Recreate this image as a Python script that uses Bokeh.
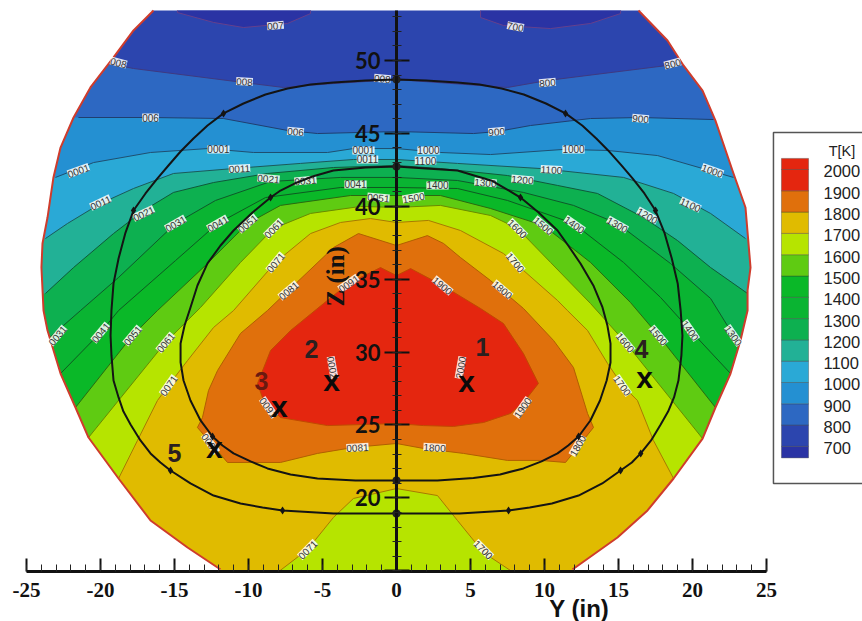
from bokeh.plotting import figure
from bokeh.embed import file_html
from bokeh.resources import INLINE
from bokeh.models import Range1d, SingleIntervalTicker
from bokeh.core.properties import value

# ---------- outline of the section (Y, Z in inches) ----------
outline_left = [(-16.42,53.43),(-17.77,52.06),(-19.12,50.21),(-20.68,48.15),(-21.82,46.09),(-22.70,44.03),
                (-23.18,41.98),(-23.58,39.23),(-23.92,37.45),(-23.99,35.80),(-23.85,32.85),(-23.58,31.48),
                (-22.70,28.53),(-21.69,26.20),(-20.81,24.14),(-18.78,21.33),(-16.62,18.45),(-14.12,16.60),(-11.89,15.09)]
outline_right = [(16.35,53.43),(18.31,51.37),(19.39,49.66),(20.68,47.94),(21.55,45.88),(22.77,42.25),(23.58,39.92),
                 (23.92,35.80),(23.72,34.23),(23.72,32.85),(23.24,30.80),(22.57,28.53),(21.55,26.20),(20.68,24.07),
                 (18.72,21.33),(16.96,19.14),(14.93,17.28),(11.89,15.09)]

# ---------- temperature contours ----------
c700_a = [(-14.80,53.43),(-14.80,53.29),(-12.36,52.61),(-10.34,52.26),(-7.36,52.54),(-5.81,53.22),(-5.81,53.43)]
c700_b = [(5.68,53.43),(5.68,52.95),(7.23,52.40),(10.41,52.19),(13.11,52.54),(15.14,53.22),(15.14,53.43)]
c800 = [(-19.46,49.79),(-17.77,49.45),(-10.34,48.49),(-7.64,48.15),(-4.26,48.42),(0,48.69),(7.50,48.15),(10.20,48.63),(18.31,49.66),(19.39,49.86)]
c900 = [(-21.49,46.09),(-16.62,46.09),(-11.69,46.02),(-7.36,45.20),(-5.34,44.99),(0,45.13),(5.20,44.99),(6.82,45.13),(9.05,45.54),(13.11,46.02),(16.49,46.09),(21.42,45.95)]
c1000 = [(-23.04,41.98),(-20.47,43.00),(-16.62,43.69),(-12.77,43.96),(-9.66,43.69),(-4.66,43.69),(-2.91,43.96),(0,43.96),(2.97,43.69),(6.35,43.55),(11.28,43.90),(14.26,43.83),(17.64,43.48),(22.77,41.98)]
c1100 = [(-23.72,37.79),(-22.23,38.82),(-20.0,40.19),(-17.77,41.22),(-15.07,42.25),(-11.01,42.59),(-6.49,42.94),(-2.91,43.21),(0,43.21),(4.12,42.94),(9.73,42.59),(15.34,41.98),(18.72,40.88),(21.22,39.51),(23.58,37.79)]
c1200 = [(-23.72,34.02),(-21.82,35.80),(-19.12,38.13),(-17.09,39.71),(-15.07,40.95),(-12.36,41.63),(-8.72,42.25),(-4.26,42.66),(0,42.80),(2.97,42.59),(7.50,42.11),(10.88,41.43),(13.58,40.88),(16.69,39.23),(18.99,37.65),(21.22,35.80),(23.72,34.02)]
c1300 = [(-23.51,30.93),(-21.35,32.85),(-18.78,35.12),(-14.93,38.82),(-12.23,40.40),(-8.51,41.70),(-3.78,41.98),(0,41.98),(4.12,41.77),(8.58,40.95),(11.96,40.06),(14.93,38.82),(18.51,36.08),(21.22,33.68),(22.77,31.14),(23.31,30.45)]
c1400 = [(-22.70,28.53),(-20.0,31.34),(-18.78,32.85),(-14.93,36.28),(-12.09,38.82),(-8.85,40.60),(-3.78,41.29),(0,41.29),(4.12,41.22),(7.50,40.40),(11.96,38.82),(15.34,36.15),(17.84,33.75),(19.86,31.48),(22.57,28.53)]
c1500 = [(-21.69,26.20),(-17.84,31.14),(-16.15,32.85),(-12.91,35.94),(-10.07,38.82),(-7.84,40.06),(-3.11,40.74),(0,40.74),(2.97,40.74),(6.35,39.85),(9.93,38.68),(13.11,36.15),(15.81,33.40),(17.70,31.14),(21.55,26.20)]
c1600 = [(-20.81,24.14),(-15.61,30.66),(-13.24,33.06),(-10.54,36.15),(-8.31,38.48),(-5.81,39.51),(-2.43,39.99),(0,39.92),(2.97,40.06),(6.35,39.37),(8.18,38.48),(10.41,36.15),(13.11,33.33),(15.47,30.66),(20.68,24.07)]
c1700 = [(-18.78,21.33),(-17.50,23.94),(-16.15,26.68),(-15.41,27.71),(-14.12,29.42),(-12.36,31.69),(-11.01,32.85),(-8.18,36.15),(-5.81,38.13),(-3.78,38.89),(-1.76,39.16),(0,38.89),(2.16,39.03),(4.32,38.34),(7.23,36.76),(8.58,35.60),(10.88,33.54),(11.55,32.85),(12.91,31.48),(14.26,29.22),(15.27,27.71),(16.28,26.68),(17.36,23.94),(18.72,21.33)]
c1700_low = [(-8.04,14.88),(-6.01,16.46),(-4.26,18.66),(-2.91,19.96),(0,20.64),(2.77,20.16),(4.12,18.45),(5.88,16.25),(7.70,15.02)]
c1800 = [(-13.45,24.83),(-13.11,25.51),(-12.70,27.37),(-12.09,28.74),(-10.54,31.28),(-8.72,32.85),(-7.30,34.23),(-4.26,37.17),(-2.57,38.13),(0,37.31),(2.09,37.99),(3.18,37.45),(4.32,36.49),(6.35,34.91),(8.58,32.99),(10.61,30.80),(11.96,28.94),(12.91,25.79),(13.31,24.83),(11.42,22.43),(9.73,22.57),(7.50,22.57),(4.53,23.05),(1.82,23.39),(0,23.73),(-2.91,23.46),(-5.34,23.05),(-7.84,22.43),(-11.42,22.43),(-13.45,24.83)]
c1900 = [(-9.39,27.85),(-8.51,30.11),(-7.16,31.48),(-4.93,33.33),(-3.24,34.71),(-1.08,35.80),(0,35.25),(0.95,35.73),(3.11,34.57),(5.68,32.99),(7.23,31.96),(8.58,29.90),(9.59,27.85),(8.58,26.54),(7.70,25.79),(5.88,25.17),(3.85,24.90),(1.82,24.96),(0,25.10),(-4.66,24.96),(-7.84,25.51),(-8.99,26.68),(-9.39,27.85)]

# ---------- band colours, lowest temperature first ----------
color_below_700 = "#2a33a4"
color_700 = "#2c45ae"
color_800 = "#2d68c2"
color_900 = "#2490d2"
color_1000 = "#2aa9d6"
color_1100 = "#22b196"
color_1200 = "#0db050"
color_1300 = "#0ab432"
color_1400 = "#0ab828"
color_1500 = "#5fcb12"
color_1600 = "#b6e400"
color_1700 = "#e0bb00"
color_1800 = "#e0700c"
color_1900 = "#e4260f"

# ---------- flow trajectories ----------
path_outer = [(0,48.69),(-2.09,48.63),(-4.26,48.49),(-5.81,48.35),(-7.36,48.08),(-8.85,47.67),(-10.34,47.05),(-11.69,46.37),(-12.77,45.54),(-13.72,44.65),(-14.59,43.76),(-15.41,42.80),(-16.15,41.91),(-16.96,40.88),(-17.77,39.71),(-18.31,38.20),(-18.78,36.42),(-19.12,34.71),(-19.26,32.85),(-19.32,31.14),(-19.26,29.77),(-19.12,28.05),(-18.78,26.89),(-18.45,25.92),(-17.97,25.03),(-17.30,23.94),(-16.62,23.05),(-15.95,22.43),(-15.27,21.88),(-13.92,20.99),(-12.36,20.16),(-10.54,19.62),(-9.05,19.34),(-7.70,19.14),(-4.26,18.93),(0,18.93),
              (4.26,18.93),(7.57,19.14),(9.0,19.34),(10.5,19.62),(12.3,20.16),(13.9,20.99),(15.14,21.88),(15.9,22.43),(16.5,23.05),(17.2,23.94),(17.85,25.03),(18.35,25.92),(18.75,26.89),(19.05,28.05),(19.25,29.77),(19.32,31.14),(19.2,32.85),(19.0,34.71),(18.6,36.42),(18.1,38.20),(17.5,39.71),(16.75,40.88),(15.95,41.91),(15.2,42.80),(14.3,43.83),(13.5,44.65),(12.55,45.54),(11.42,46.37),(10.1,47.05),(8.6,47.67),(7.1,48.08),(5.6,48.35),(4.1,48.49),(2.0,48.63),(0,48.69)]
path_inner = [(0,42.73),(-2.09,42.66),(-4.26,42.45),(-5.68,42.04),(-6.89,41.56),(-7.84,41.08),(-8.51,40.60),(-9.73,39.57),(-11.01,38.34),(-11.89,37.31),(-12.77,36.08),(-13.45,34.57),(-13.92,33.06),(-14.32,31.82),(-14.59,30.59),(-14.59,29.29),(-14.39,28.05),(-13.92,26.68),(-13.24,25.31),(-12.43,24.21),(-11.76,23.59),(-11.01,23.05),(-9.86,22.50),(-8.72,22.02),(-7.16,21.61),(-5.34,21.33),(-2.77,21.19),(0,21.19),
              (2.77,21.19),(5.20,21.36),(7.0,21.61),(8.58,22.02),(9.8,22.50),(10.88,23.05),(11.6,23.59),(12.30,24.21),(13.1,25.31),(13.75,26.68),(14.2,28.05),(14.46,29.29),(14.46,30.59),(14.25,31.82),(13.92,33.06),(13.3,34.57),(12.43,36.08),(11.6,37.31),(10.88,38.34),(9.6,39.57),(8.38,40.60),(7.6,41.08),(6.4,41.77),(5.3,42.1),(4.12,42.45),(2.0,42.6),(0,42.73)]
path_marks = [(-11.69,46.37),(-17.77,39.71),(-15.27,21.88),(-7.70,19.14),(17.50,39.71),(11.42,46.37),(15.14,21.88),(7.57,19.14),(16.5,23.05),(-8.51,40.60),(-12.43,24.21),(8.38,40.60),(12.30,24.21)]
axis_marks = [(0,48.69),(0,18.93),(0,42.73),(0,21.19)]

# ---------- numbered sampling points ----------
point_y = [4.73,-4.39,-7.91,16.76,-12.3]
point_z = [28.0,28.05,26.27,28.26,23.46]
number_text = ["1","2","3","4","5"]
number_colors = ["#2a2020","#2a2020","#6a1a10","#2a2020","#2a2020"]
number_y = [5.81,-5.74,-9.12,16.55,-15.0]
number_z = [30.32,30.18,28.05,30.18,23.05]

# ---------- contour labels ----------
label_text = ["700","800","800","900","900","1000","1000","1000","1100","1100","1100","1200","1200",
              "1300","1300","1300","1400","1400","1400","1500","1500","1500","1600","1600",
              "1700","1700","1700","1800","1800","1800","1900","1900","2000",
              "007","008","008","008","006","006","0001","0001","0001","0011","0011","0011","0021","0021",
              "0031","0031","0031","0041","0041","0041","0051","0051","0051","0061","0061",
              "0071","0071","0071","0081","0081","0081","0091","0091","0002"]
label_y = [8.04,10.20,18.65,16.49,6.76,11.96,2.16,21.35,1.96,10.47,19.86,8.51,16.96,
           6.01,14.93,22.77,2.77,12.03,19.86,1.15,9.93,17.70,8.18,15.47,
           8.04,15.27,5.88,7.16,2.57,12.23,3.11,8.51,4.32,
           -8.18,-18.78,-10.27,-0.95,-16.62,-6.82,-21.49,-12.03,-2.23,-20.0,-10.61,-1.96,-17.09,-8.65,
           -14.93,-6.15,-22.91,-12.09,-2.77,-20.0,-10.07,-1.22,-17.84,-8.31,-15.61,
           -8.18,-15.41,-6.01,-7.30,-2.64,-12.57,-3.24,-8.65,-4.32]
label_z = [52.33,48.49,49.79,46.02,45.13,43.90,43.83,42.45,43.14,42.52,40.12,41.84,39.37,
           41.63,38.75,31.14,41.43,38.75,31.48,40.60,38.68,31.14,38.48,30.66,
           36.15,27.71,16.46,34.29,23.46,23.59,34.57,26.20,28.94,
           52.40,49.86,48.56,48.77,46.09,45.13,42.45,43.90,43.83,40.26,42.59,43.21,39.51,41.90,
           38.82,41.77,31.14,38.82,41.50,31.34,38.82,40.60,31.14,38.48,30.66,
           36.15,27.71,16.46,34.23,23.46,23.73,34.71,26.20,28.94]
label_angle = [-10,5,15,-5,5,0,0,-20,0,-3,-25,-5,-30,
               -5,-30,-55,0,-35,-55,10,-40,-50,-45,-50,
               -50,-55,-45,-40,-3,60,-40,55,80,
               5,-15,-3,-5,0,-5,20,0,0,25,3,0,25,-5,
               30,5,50,30,0,50,40,-5,50,45,50,
               50,55,45,40,3,-55,35,-55,-80]

# ---------- legend ----------
legend_title = "T[K]"
legend_levels = [700,800,900,1000,1100,1200,1300,1400,1500,1600,1700,1800,1900,2000]
legend_low = [646,700,800,900,1000,1100,1200,1300,1400,1500,1600,1700,1800,1900,2000]
legend_high = [700,800,900,1000,1100,1200,1300,1400,1500,1600,1700,1800,1900,2000,2052]
legend_colors = [color_below_700,color_700,color_800,color_900,color_1000,color_1100,color_1200,
                 color_1300,color_1400,color_1500,color_1600,color_1700,color_1800,color_1900,color_1900]

# ---------- axes ----------
x_start, x_end = -26.757, 31.486
z_start, z_end = 11.522, 54.115
t_start, t_end = -122.1, 2793.4
axis_y_title = "Y (in)"
axis_z_title = "Z (in)"
y_tick_labels = {-25:"-25",-20:"-20",-15:"-15",-10:"-10",-5:"-5",0:"0",5:"5",10:"10",15:"15",20:"20",25:"25"}

p = figure(width=862, height=621, output_backend="svg", toolbar_location=None,
           x_range=Range1d(x_start, x_end), y_range=Range1d(z_start, z_end),
           min_border_left=0, min_border_right=0, min_border_top=0, min_border_bottom=0,
           outline_line_color=None, background_fill_color="white", border_fill_color="white")
p.extra_y_ranges = {"T": Range1d(t_start, t_end)}
p.grid.visible = False

L, R, BOT, TOP = -26.6, 31.3, 14.0, 53.43
FAR = 40.0
BASE = 14.952

def below(c):
    return [(L, c[0][1])] + c + [(R, c[-1][1]), (R, BOT), (L, BOT)]

def xs(c): return [q[0] for q in c]
def zs(c): return [q[1] for q in c]

# base band and filled bands, painted from cool to hot
p.quad(left=[L], right=[R], bottom=[BOT], top=[TOP], fill_color=color_700, line_color=None)
for lobe in (c700_a, c700_b):
    p.patch(xs(lobe), zs(lobe), fill_color=color_below_700, line_color=None)

fills = [(below(c800),color_800),(below(c900),color_900),(below(c1000),color_1000),(below(c1100),color_1100),
         (below(c1200),color_1200),(below(c1300),color_1300),(below(c1400),color_1400),(below(c1500),color_1500),
         (below(c1600),color_1600),(below(c1700),color_1700),
         (c1700_low + [(c1700_low[-1][0],BOT),(c1700_low[0][0],BOT)],color_1600),
         (c1800,color_1800),(c1900,color_1900)]
p.patches([xs(f[0]) for f in fills], [zs(f[0]) for f in fills], fill_color=[f[1] for f in fills], line_color=None)

lines = [(c700_a,"#66408c"),(c700_b,"#66408c"),(c800,"#3f3a80"),(c900,"#1f3f70"),(c1000,"#1f4f70"),(c1100,"#1b5a5a"),
         (c1200,"#0f5a3a"),(c1300,"#0f5a2a"),(c1400,"#0f5a22"),(c1500,"#2a6a10"),(c1600,"#6a8a00"),
         (c1700,"#a87a00"),(c1700_low,"#a87a00"),(c1800,"#b06000"),(c1900,"#c04a00")]
p.multi_line([xs(l[0]) for l in lines], [zs(l[0]) for l in lines], line_color=[l[1] for l in lines], line_width=1)

# white outside the section, red outline
FLOOR = 5.0
p.quad(left=[-FAR], right=[FAR], bottom=[FLOOR], top=[BASE], fill_color="white", line_color=None)
p.patch(xs(outline_left) + [outline_left[-1][0], -FAR, -FAR], zs(outline_left) + [FLOOR, FLOOR, 56], fill_color="white", line_color=None)
p.patch(xs(outline_right) + [outline_right[-1][0], FAR, FAR], zs(outline_right) + [FLOOR, FLOOR, 56], fill_color="white", line_color=None)
for o in (outline_left, outline_right):
    p.line(xs(o), zs(o), line_color="#cf3c2c", line_width=2)

# contour labels
p.text(label_y, label_z, text=label_text, angle=label_angle, angle_units="deg", text_align="center",
       text_baseline="middle", text_font=value("Liberation Sans"), text_font_size="10px", text_color="#333333",
       background_fill_color="white", background_fill_alpha=0.85)

# trajectories
for path in (path_outer, path_inner):
    p.line(xs(path), zs(path), line_color="#141414", line_width=2, line_join="round")
p.scatter(xs(path_marks), zs(path_marks), marker="diamond", size=8, fill_color="#141414", line_color=None)
p.scatter(xs(axis_marks), zs(axis_marks), marker="circle", size=8, fill_color="#222222", line_color=None)

# sample points
p.text(point_y, point_z, text=["x"]*5, text_align="center", text_baseline="middle", text_color="#0a0a0a",
       text_font=value("Liberation Sans"), text_font_style="bold", text_font_size="30px")
p.text(number_y, number_z, text=number_text, text_align="center", text_baseline="middle", text_color=number_colors,
       text_font=value("Liberation Sans"), text_font_style="bold", text_font_size="25px")

# legend (T scale on its own range)
p.quad(left=[25.47], right=[34], bottom=[526], top=[2174], y_range_name="T", fill_color="white", line_color="#555555", line_width=1.5)
p.quad(left=[26.01]*15, right=[27.84]*15, bottom=legend_low, top=legend_high, y_range_name="T",
       fill_color=legend_colors, line_color="#333333", line_alpha=0.5, line_width=0.7)
p.text([28.85]*14, legend_levels, text=[str(v) for v in legend_levels], y_range_name="T", text_align="left",
       text_baseline="middle", y_offset=2, text_font=value("Liberation Sans"), text_font_size="16.5px", text_color="#222222")
p.text([29.2], [2089], text=[legend_title], y_range_name="T", text_align="left", text_baseline="middle",
       text_font=value("Liberation Sans"), text_font_size="14.5px", text_color="#222222")

# axis titles
p.text([12.35], [12.4], text=[axis_y_title], text_align="center", text_baseline="middle", text_color="#111111",
       text_font=value("Liberation Sans"), text_font_style="bold", text_font_size="24px")
p.text([-4.1], [35.2], text=[axis_z_title], angle=[90], angle_units="deg", text_align="center", text_baseline="middle",
       text_color="#111111", text_font=value("Liberation Serif"), text_font_style="bold", text_font_size="25px")

# Y axis (horizontal, at Z = 15)
xa = p.xaxis[0]
xa.fixed_location = BASE
xa.bounds = (-25, 25)
xa.ticker = SingleIntervalTicker(interval=5, num_minor_ticks=5)
xa.major_label_overrides = y_tick_labels
xa.axis_line_color = "#111111"; xa.axis_line_width = 3
xa.major_tick_line_color = "#111111"; xa.major_tick_line_width = 2
xa.major_tick_in = 13; xa.major_tick_out = 0
xa.minor_tick_line_color = "#222222"; xa.minor_tick_line_width = 1
xa.minor_tick_in = 7; xa.minor_tick_out = 0
xa.major_label_standoff = 12
xa.major_label_text_font = "Liberation Serif"; xa.major_label_text_font_style = "bold"
xa.major_label_text_font_size = "21px"; xa.major_label_text_color = "#111111"

# Z axis (vertical, through Y = 0)
za = p.yaxis[0]
za.fixed_location = 0
za.bounds = (BASE, 53.43)
za.ticker = SingleIntervalTicker(interval=5, num_minor_ticks=5)
za.major_label_overrides = {15: ""}
za.axis_line_color = "#111111"; za.axis_line_width = 3
za.major_tick_line_color = "#111111"; za.major_tick_line_width = 2
za.major_tick_in = 13; za.major_tick_out = 12
za.minor_tick_line_color = "#222222"; za.minor_tick_line_width = 1
za.minor_tick_in = 5; za.minor_tick_out = 4
za.major_label_standoff = 4
za.major_label_text_font = "Lato"; za.major_label_text_font_style = "bold"
za.major_label_text_font_size = "22px"; za.major_label_text_color = "#111111"

open("out.html", "w").write(file_html(p, INLINE))
